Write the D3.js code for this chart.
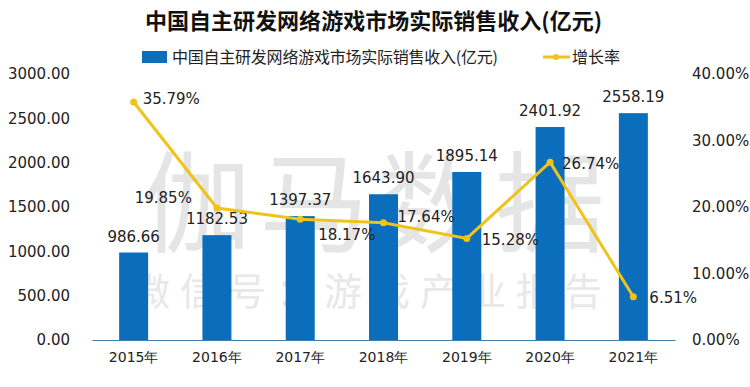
<!DOCTYPE html>
<html>
<head>
<meta charset="utf-8">
<script src="https://cdn.jsdelivr.net/npm/d3@7"></script>
<style>
  body { margin: 0; background: #fff; }
  svg text { font-family: "Noto Sans CJK SC", "Noto Sans", sans-serif; }
  svg text.num, .tick text { font-family: "DejaVu Sans", sans-serif; }
</style>
</head>
<body>
<svg id="chart" width="750" height="387"></svg>
<script>
const years = ["2015年", "2016年", "2017年", "2018年", "2019年", "2020年", "2021年"];
const revenue = [986.66, 1182.53, 1397.37, 1643.90, 1895.14, 2401.92, 2558.19];
const growth = [35.79, 19.85, 18.17, 17.64, 15.28, 26.74, 6.51];
const leftTicks = [0, 500, 1000, 1500, 2000, 2500, 3000];
const rightTicks = [0, 10, 20, 30, 40];
// where each growth label sits relative to its point: [dx, dy, anchor]
const growthLabelPos = [[9, -3, "start"], [-25, -10, "end"], [18, 16, "start"], [14, -6, "start"], [15, 1, "start"], [12, 2, "start"], [16, 1, "start"]];

const svg = d3.select("#chart");
const margin = {top: 74, right: 75, bottom: 47, left: 92};
const width = 750 - margin.left - margin.right,
    height = 387 - margin.top - margin.bottom;

const barColor = "#0a6ebd";
const lineColor = "#f0c31a";

// title
svg.append("text")
    .attr("x", 145).attr("y", 29)
    .attr("textLength", 457).attr("lengthAdjust", "spacingAndGlyphs")
    .style("font-size", "22px").style("font-weight", "bold").attr("fill", "#111")
    .text("中国自主研发网络游戏市场实际销售收入(亿元)");

// legend
const lg = svg.append("g").attr("transform", "translate(0,57)");
lg.append("rect").attr("x", 142).attr("y", -6).attr("width", 25).attr("height", 12).attr("fill", barColor);
lg.append("text").attr("x", 172).attr("y", 0).attr("dy", "0.35em")
    .attr("textLength", 326).attr("lengthAdjust", "spacing")
    .style("font-size", "16px").attr("fill", "#222")
    .text("中国自主研发网络游戏市场实际销售收入(亿元)");
lg.append("line").attr("x1", 543).attr("x2", 570).attr("y1", 0).attr("y2", 0)
    .attr("stroke", lineColor).attr("stroke-width", 3);
lg.append("circle").attr("cx", 556).attr("cy", 0).attr("r", 3).attr("fill", lineColor);
lg.append("text").attr("x", 572).attr("y", 0).attr("dy", "0.35em")
    .style("font-size", "16px").attr("fill", "#222").text("增长率");

const g = svg.append("g").attr("transform", `translate(${margin.left},${margin.top})`);

const x = d3.scaleBand().domain(years).range([0, width]).padding(0);
const y = d3.scaleLinear().domain([0, 3000]).range([height, 0]);
const y2 = d3.scaleLinear().domain([0, 40]).range([height, 0]);

// watermark
g.append("text")
    .attr("x", 49).attr("y", 170)
    .style("font-size", "110px").style("letter-spacing", "8px")
    .attr("fill", "#e5e5e5")
    .text("伽马数据");
g.append("text")
    .attr("x", 40).attr("y", 231)
    .style("font-size", "38px").style("letter-spacing", "10px")
    .attr("fill", "#e8e8e8")
    .text("微信号：游戏产业报告");

// left axis
g.append("g")
    .call(d3.axisLeft(y).tickValues(leftTicks).tickFormat(d3.format(".2f")).tickSize(0).tickPadding(22))
    .call(s => s.select(".domain").remove())
    .selectAll("text").style("font-size", "15px").attr("fill", "#222");

// right axis
g.append("g")
    .attr("transform", `translate(${width},0)`)
    .call(d3.axisRight(y2).tickValues(rightTicks).tickFormat(d => d.toFixed(2) + "%").tickSize(0).tickPadding(17))
    .call(s => s.select(".domain").remove())
    .selectAll("text").style("font-size", "15px").attr("fill", "#222");

// bottom axis
g.append("g")
    .attr("transform", `translate(0,${height})`)
    .call(d3.axisBottom(x).tickSize(0).tickPadding(12))
    .call(s => s.select(".domain").attr("stroke", "#3f7fae").attr("stroke-width", 1))
    .selectAll("text").style("font-size", "14px").attr("fill", "#222");

// bars
const barW = 29;
const cx = i => x(years[i]) + x.bandwidth() / 2;
g.selectAll("rect.bar")
    .data(revenue)
    .join("rect")
    .attr("class", "bar")
    .attr("x", (d, i) => cx(i) - barW / 2)
    .attr("y", d => y(d))
    .attr("width", barW)
    .attr("height", d => height - y(d))
    .attr("fill", barColor);

g.selectAll("text.barlabel")
    .data(revenue)
    .join("text")
    .attr("class", "barlabel num")
    .attr("x", (d, i) => cx(i))
    .attr("y", d => y(d) - 11)
    .attr("text-anchor", "middle")
    .style("font-size", "15px").attr("fill", "#222")
    .text(d => d.toFixed(2));

// growth line
const line = d3.line().x((d, i) => cx(i)).y(d => y2(d));
g.append("path")
    .datum(growth)
    .attr("d", line)
    .attr("fill", "none")
    .attr("stroke", lineColor)
    .attr("stroke-width", 3);

g.selectAll("circle.pt")
    .data(growth)
    .join("circle")
    .attr("class", "pt")
    .attr("cx", (d, i) => cx(i))
    .attr("cy", d => y2(d))
    .attr("r", 3.5)
    .attr("fill", lineColor);

g.selectAll("text.glabel")
    .data(growth)
    .join("text")
    .attr("class", "glabel num")
    .attr("x", (d, i) => cx(i) + growthLabelPos[i][0])
    .attr("y", (d, i) => y2(d) + growthLabelPos[i][1])
    .attr("dy", "0.35em")
    .attr("text-anchor", (d, i) => growthLabelPos[i][2])
    .style("font-size", "15px").attr("fill", "#222")
    .text(d => d.toFixed(2) + "%");
</script>
</body>
</html>
